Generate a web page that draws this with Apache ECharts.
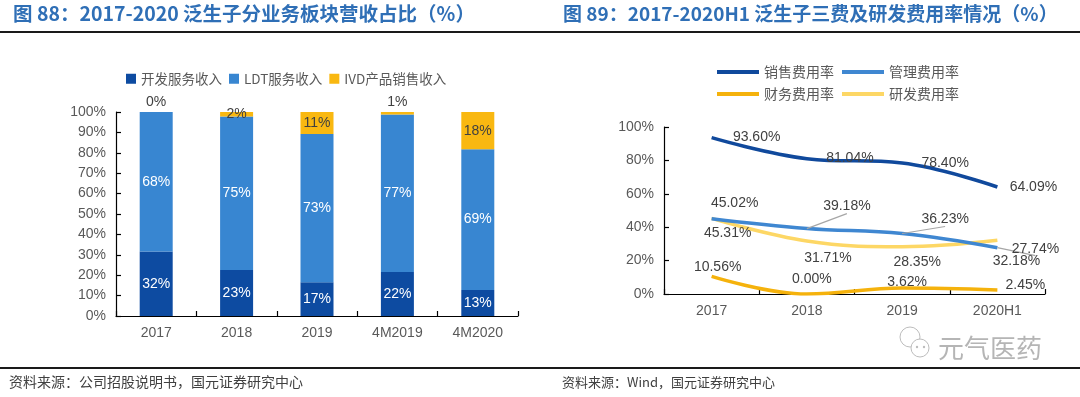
<!DOCTYPE html>
<html style="height: 100%">
<head>
<meta charset="utf-8">
<script src="https://cdn.jsdelivr.net/npm/echarts@6/dist/echarts.min.js"></script>
</head>
<body style="height: 100%; margin: 0; background: #fff">
<div id="container" style="width: 1080px; height: 397px"></div>
<script>
// left: revenue split by business line (%)
var barCats = ['2017', '2018', '2019', '4M2019', '4M2020'];
var devShare = [31.6, 22.6, 16.6, 21.6, 12.8];
var ldtShare = [68.4, 75.2, 72.6, 77.2, 68.9];
var ivdShare = [0.0, 2.2, 10.8, 1.2, 18.3];

// right: expense ratios (%)
var lineCats = ['2017', '2018', '2019', '2020H1'];
var salesRate = [93.60, 81.04, 78.40, 64.09];
var adminRate = [45.02, 39.18, 36.23, 27.74];
var finRate = [10.56, 0.00, 3.62, 2.45];
var rdRate = [45.31, 31.71, 28.35, 32.18];

// label placement (pixels from the point)
var salesShift = [[45, -1], [43, -1], [43, 0], [36, 0]];
var adminShift = [[23, -16], [40, -22], [43, -14], [38, 1]];
var finShift = [[6, -9], [5, -15], [5, -6], [28, -5]];
var rdShift = [[16, 15], [21, 17], [15, 15], [19, 21]];
var adminGuide = [false, true, true, true];

var FONT = '"Liberation Sans", "Noto Sans CJK SC", sans-serif';
var CJK = '"Noto Sans CJK SC", sans-serif';
var GRAY = '#595959';

var myChart = echarts.init(document.getElementById('container'));

function pct(v) { return Math.round(v) + '%'; }

function lineData(vals, shift, guide) {
    return vals.map(function (v, i) {
        var item = { value: v, label: { offset: shift[i] } };
        if (guide && guide[i]) {
            item.labelLine = { show: true, lineStyle: { color: '#a6a6a6', width: 1.2 } };
        }
        return item;
    });
}

function lineSeries(name, vals, color, shift, guide) {
    return {
        name: name,
        type: 'line',
        xAxisIndex: 1,
        yAxisIndex: 1,
        smooth: 0.4,
        symbol: 'circle',
        symbolSize: 0,
        showSymbol: true,
        data: lineData(vals, shift, guide),
        lineStyle: { color: color, width: 3.5 },
        itemStyle: { color: color },
        label: {
            show: true,
            position: 'inside',
            color: '#404040',
            fontSize: 14,
            fontFamily: FONT,
            formatter: function (p) { return p.value.toFixed(2) + '%'; }
        }
    };
}

var axisLine = { show: true, lineStyle: { color: '#000', width: 1.2 } };
var axisTick = { show: true, inside: true, length: 5, lineStyle: { color: '#000', width: 1.2 } };
var axisLabel = { color: GRAY, fontSize: 14, fontFamily: FONT };

var option = {
    backgroundColor: '#fff',
    animation: false,
    grid: [
        { left: 116, right: 562, top: 112, bottom: 81 },
        { left: 664, right: 35, top: 127, bottom: 103 }
    ],
    legend: [
        {
            data: ['开发服务收入', 'LDT服务收入', 'IVD产品销售收入'],
            left: 121, top: 67,
            itemWidth: 10, itemHeight: 10, itemGap: 7,
            icon: 'rect',
            textStyle: { color: GRAY, fontSize: 13.5, fontFamily: CJK }
        },
        {
            data: ['销售费用率', '管理费用率'],
            left: 712, top: 60,
            itemWidth: 42, itemHeight: 4, itemGap: 8,
            icon: 'rect',
            textStyle: { color: GRAY, fontSize: 14, fontFamily: CJK }
        },
        {
            data: ['财务费用率', '研发费用率'],
            left: 712, top: 82,
            itemWidth: 42, itemHeight: 4, itemGap: 8,
            icon: 'rect',
            textStyle: { color: GRAY, fontSize: 14, fontFamily: CJK }
        }
    ],
    xAxis: [
        {
            type: 'category', gridIndex: 0, data: barCats,
            axisLine: axisLine, axisTick: axisTick,
            axisLabel: Object.assign({ margin: 10 }, axisLabel)
        },
        {
            type: 'category', gridIndex: 1, data: lineCats,
            axisLine: axisLine, axisTick: axisTick,
            axisLabel: Object.assign({ margin: 10 }, axisLabel)
        }
    ],
    yAxis: [
        {
            type: 'value', gridIndex: 0, min: 0, max: 100, interval: 10,
            axisLine: axisLine, axisTick: axisTick, splitLine: { show: false },
            axisLabel: Object.assign({ formatter: '{value}%', margin: 10 }, axisLabel)
        },
        {
            type: 'value', gridIndex: 1, min: 0, max: 100, interval: 20,
            axisLine: axisLine, axisTick: axisTick, splitLine: { show: false },
            axisLabel: Object.assign({ formatter: '{value}%', margin: 10 }, axisLabel)
        }
    ],
    series: [
        {
            name: '开发服务收入', type: 'bar', stack: 'rev', barWidth: 33,
            data: devShare,
            itemStyle: { color: '#0d4ba1' },
            label: { show: true, position: 'inside', color: '#fff', fontSize: 14, fontFamily: FONT,
                formatter: function (p) { return pct(p.value); } }
        },
        {
            name: 'LDT服务收入', type: 'bar', stack: 'rev', barWidth: 33,
            data: ldtShare,
            itemStyle: { color: '#3886d1' },
            label: { show: true, position: 'inside', color: '#fff', fontSize: 14, fontFamily: FONT,
                formatter: function (p) { return pct(p.value); } }
        },
        {
            name: 'IVD产品销售收入', type: 'bar', stack: 'rev', barWidth: 33,
            data: ivdShare.map(function (v) {
                return v < 2 ? { value: v, label: { position: 'top', distance: 3 } } : v;
            }),
            itemStyle: { color: '#f9b811' },
            label: { show: true, position: 'inside', color: '#404040', fontSize: 14, fontFamily: FONT,
                formatter: function (p) { return pct(p.value); } }
        },
        lineSeries('研发费用率', rdRate, '#fdd765', rdShift),
        lineSeries('财务费用率', finRate, '#f5b20c', finShift),
        lineSeries('管理费用率', adminRate, '#3f87d1', adminShift, adminGuide),
        lineSeries('销售费用率', salesRate, '#10499c', salesShift)
    ],
    graphic: [
        { type: 'text', left: 13, top: 4,
          style: { text: '图 88：2017-2020 泛生子分业务板块营收占比（%）', fill: '#2f6fb6',
                   font: 'bold 19.5px ' + CJK } },
        { type: 'text', left: 563, top: 4,
          style: { text: '图 89：2017-2020H1 泛生子三费及研发费用率情况（%）', fill: '#2f6fb6',
                   font: 'bold 19px ' + CJK } },
        { type: 'rect', shape: { x: 0, y: 31, width: 1080, height: 2 }, style: { fill: '#1a1a1a' } },
        { type: 'rect', shape: { x: 0, y: 367, width: 1080, height: 2 }, style: { fill: '#1a1a1a' } },
        { type: 'text', left: 9, top: 375,
          style: { text: '资料来源：公司招股说明书，国元证券研究中心', fill: '#404040', font: '14px ' + CJK } },
        { type: 'text', left: 562, top: 376,
          style: { text: '资料来源：Wind，国元证券研究中心', fill: '#404040', font: '13px ' + CJK } },
        // watermark
        { type: 'circle', shape: { cx: 910, cy: 337, r: 10 }, style: { fill: '#fff', stroke: '#bdbdbd', lineWidth: 1 } },
        { type: 'circle', shape: { cx: 920, cy: 348, r: 9 }, style: { fill: '#fff', stroke: '#bdbdbd', lineWidth: 1 } },
        { type: 'circle', shape: { cx: 917, cy: 347, r: 1.2 }, style: { fill: '#bdbdbd' } },
        { type: 'circle', shape: { cx: 924, cy: 347, r: 1.2 }, style: { fill: '#bdbdbd' } },
        { type: 'text', left: 938, top: 335,
          style: { text: '元气医药', fill: '#b5b5b5', font: '26px ' + CJK } }
    ]
};

myChart.setOption(option);
</script>
</body>
</html>
